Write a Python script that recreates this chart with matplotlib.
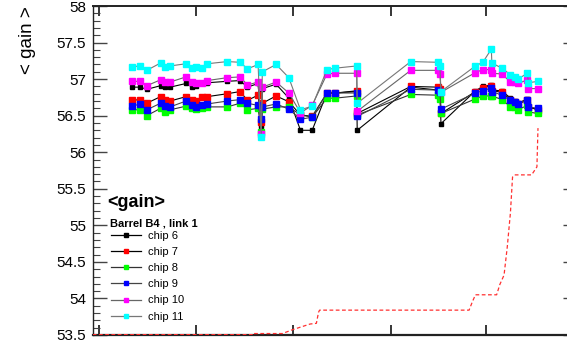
import numpy as np
import matplotlib.pyplot as plt
from matplotlib.lines import Line2D

plt.rcParams['font.family'] = ['Liberation Sans', 'DejaVu Sans']

# measurement days (days since 1 Apr 2010)
days = [31, 39, 45, 58, 62, 67, 82, 88, 91, 97, 102, 121, 133, 140, 150, 153, 154,
        167, 179, 190, 201, 215, 223, 243, 243.5, 294, 320, 321.5, 322.5, 355, 362,
        370, 370.5, 380, 388, 392, 395, 404, 405, 414]

chip6 = [56.89, 56.89, 56.86, 56.91, 56.89, 56.89, 56.94, 56.89, 56.91, 56.94, 56.95,
         56.97, 56.98, 56.89, 56.94, 56.36, 56.87, 56.93, 56.74, 56.30, 56.30, 56.81,
         56.81, 56.83, 56.30, 56.89, 56.85, 56.84, 56.39, 56.84, 56.90, 56.92, 56.85,
         56.84, 56.74, 56.70, 56.67, 56.73, 56.62, 56.58]
chip7 = [56.71, 56.72, 56.67, 56.76, 56.71, 56.70, 56.76, 56.71, 56.70, 56.75, 56.76,
         56.80, 56.83, 56.71, 56.78, 56.42, 56.67, 56.77, 56.69, 56.51, 56.49, 56.81,
         56.81, 56.84, 56.53, 56.90, 56.89, 56.87, 56.53, 56.83, 56.88, 56.91, 56.84,
         56.82, 56.72, 56.69, 56.66, 56.71, 56.62, 56.58]
chip8 = [56.58, 56.58, 56.50, 56.60, 56.55, 56.58, 56.63, 56.60, 56.59, 56.60, 56.62,
         56.62, 56.67, 56.58, 56.60, 56.28, 56.59, 56.62, 56.62, 56.51, 56.48, 56.74,
         56.74, 56.77, 56.51, 56.79, 56.78, 56.73, 56.53, 56.73, 56.77, 56.77, 56.77,
         56.72, 56.62, 56.62, 56.58, 56.64, 56.55, 56.53]
chip9 = [56.63, 56.66, 56.58, 56.67, 56.63, 56.62, 56.70, 56.64, 56.62, 56.64, 56.66,
         56.70, 56.72, 56.67, 56.64, 56.46, 56.62, 56.66, 56.59, 56.45, 56.48, 56.81,
         56.81, 56.81, 56.49, 56.86, 56.85, 56.83, 56.59, 56.81, 56.84, 56.88, 56.83,
         56.78, 56.71, 56.69, 56.66, 56.72, 56.62, 56.60]
chip10 = [56.97, 56.97, 56.91, 56.99, 56.96, 56.96, 57.03, 56.96, 56.94, 56.95, 56.98,
          57.02, 57.03, 56.92, 56.96, 56.25, 56.89, 56.96, 56.81, 56.54, 56.64, 57.07,
          57.08, 57.08, 56.56, 57.12, 57.12, 57.07, 56.82, 57.09, 57.13, 57.13, 57.08,
          57.07, 56.96, 56.96, 56.94, 56.99, 56.87, 56.87]
chip11 = [57.17, 57.18, 57.12, 57.22, 57.17, 57.18, 57.21, 57.15, 57.17, 57.15, 57.21,
          57.24, 57.23, 57.14, 57.20, 56.21, 57.10, 57.20, 57.02, 56.58, 56.63, 57.13,
          57.15, 57.18, 56.67, 57.24, 57.23, 57.18, 56.83, 57.18, 57.23, 57.41, 57.22,
          57.15, 57.06, 57.03, 57.00, 57.08, 56.95, 56.97]

# reference curve (dashed red)
ref_days = [-6, 145, 145, 173, 182, 199, 205, 207, 208, 349, 352, 355, 375, 378,
            382, 385, 388, 390, 392, 408, 413, 414]
ref_vals = [53.505, 53.505, 53.52, 53.52, 53.57, 53.65, 53.66, 53.81, 53.84, 53.84,
            53.95, 54.05, 54.05, 54.19, 54.32, 54.70, 55.17, 55.66, 55.69, 55.69,
            55.80, 56.33]

tick_days = [0, 91, 183, 275, 365]
tick_labels = ['2010', '2010', '2010', '2011', '2011']

series = [('chip 6', chip6, 'black', 'black', 3.2),
          ('chip 7', chip7, 'red', 'black', 3.8),
          ('chip 8', chip8, '#00ff00', '#333333', 3.8),
          ('chip 9', chip9, 'blue', '#444444', 3.8),
          ('chip 10', chip10, 'magenta', '#666666', 3.8),
          ('chip 11', chip11, 'cyan', '#777777', 3.8)]

fig = plt.figure(figsize=(5.67, 3.46), dpi=100)
ax = fig.add_axes([93/567, 11/346, (577-93)/567, (335-6)/346])

handles = []
for name, vals, mc, lc, ms in series:
    ax.plot(days, vals, color=lc, lw=0.8, marker='s', ms=ms, mfc=mc, mec=mc)
    handles.append(Line2D([], [], color=lc, lw=0.9, marker='s', ms=ms - 0.8,
                          mfc=mc, mec=mc, label=name))

ax.plot(ref_days, ref_vals, color='#ff3030', lw=0.9, ls=(0, (3, 2)), zorder=3)

ax.set_xlim(-5.7, 450.8)
ax.set_ylim(53.5, 58)
ax.set_yticks(np.arange(53.5, 58.01, 0.5))
ax.set_yticklabels(['53.5', '54', '54.5', '55', '55.5', '56', '56.5', '57', '57.5', '58'])
ax.set_yticks(np.arange(53.5, 58.0, 0.1), minor=True)
ax.set_xticks(tick_days)
ax.set_xticklabels(tick_labels)

ax.tick_params(axis='y', which='major', direction='in', length=10, width=1,
               left=True, right=True, labelsize=11, pad=5, color='#444444')
ax.tick_params(axis='y', which='minor', direction='in', length=5, width=0.8,
               left=True, right=True, color='#444444')
ax.tick_params(axis='x', which='major', direction='in', length=7, width=1.1,
               top=True, bottom=True, labelsize=11, pad=7)
ax.tick_params(axis='x', which='minor', bottom=False, top=False)

for side, w in [('left', 1.0), ('top', 1.4), ('bottom', 1.6), ('right', 1.0)]:
    ax.spines[side].set_linewidth(w)
    ax.spines[side].set_color('#222222')

fig.text(27/567, 1 - 6/346, '< gain >', rotation=90, ha='center', va='top', fontsize=13.5)

fig.text(107/567, 1 - 207/346, '<gain>', fontsize=13, fontweight='bold', va='baseline')
fig.text(110/567, 1 - 226/346, 'Barrel B4 , link 1', fontsize=8, fontweight='bold',
         va='baseline')
fig.legend(handles=handles, loc='upper left', bbox_to_anchor=(111/567, 1 - 231/346),
           frameon=False, fontsize=8, handlelength=2.7, handletextpad=0.6,
           labelspacing=0.55, borderpad=0, borderaxespad=0)

fig.savefig('out.png', dpi=100)
